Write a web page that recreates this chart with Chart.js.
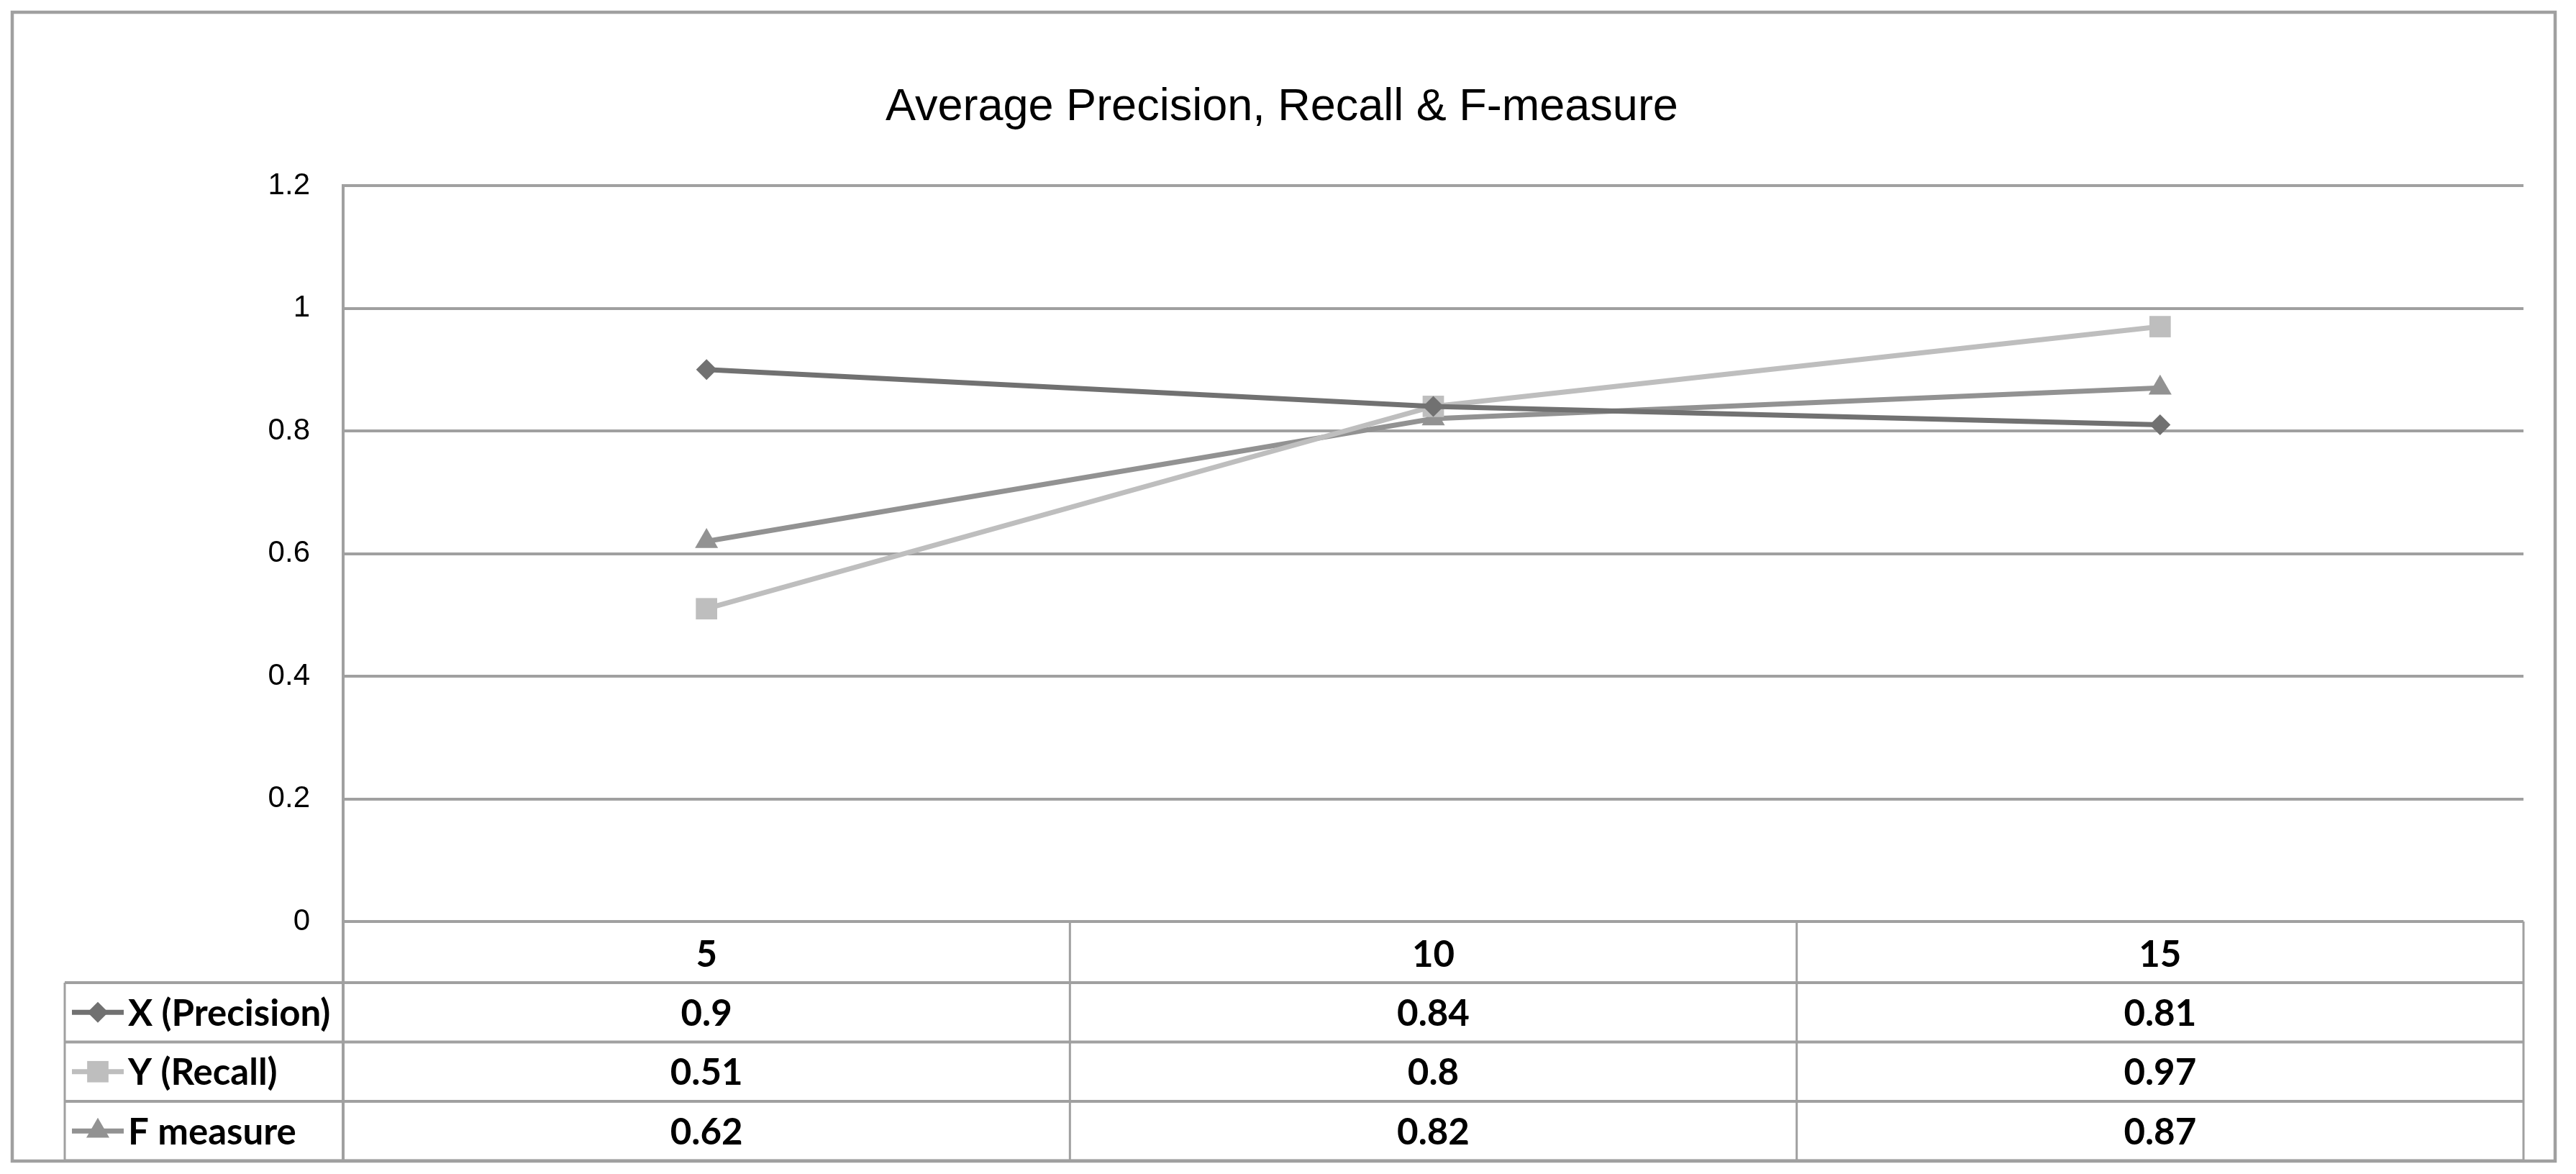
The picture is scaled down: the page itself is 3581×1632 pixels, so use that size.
<!DOCTYPE html>
<html>
<head>
<meta charset="utf-8">
<script src="https://cdn.jsdelivr.net/npm/chart.js@4.4.0/dist/chart.umd.min.js"></script>
<style>
  html, body { margin: 0; padding: 0; background: #fff; }
  #wrap { width: 3581px; height: 1632px; }
</style>
</head>
<body>
<div id="wrap"><canvas id="myChart" width="3581" height="1632"></canvas></div>
<script>
const chartTitle = 'Average Precision, Recall & F-measure';
const categories = ['5', '10', '15'];
const seriesNames = ['X (Precision)', 'Y (Recall)', 'F measure'];
const precision = [0.9, 0.84, 0.81];
const recall = [0.51, 0.84, 0.97];
const fMeasure = [0.62, 0.82, 0.87];
// numbers as printed in the data table under the plot
const precisionTable = ['0.9', '0.84', '0.81'];
const recallTable = ['0.51', '0.8', '0.97'];
const fMeasureTable = ['0.62', '0.82', '0.87'];
const yTickLabels = ['0', '0.2', '0.4', '0.6', '0.8', '1', '1.2'];

const gridGray = '#a0a0a0';
const colors = ['#717171', '#bebebe', '#929292'];
const pointStyles = ['rectRot', 'rect', 'triangle'];
const pointSizes = [14.5, 21, 18.5];

const dataTable = {
  id: 'dataTable',
  afterDraw: (chart) => {
    const { ctx, chartArea: { left, right, bottom } } = chart;
    const xs = chart.scales.x;
    const headerH = 85;
    const rowH = 82.5;
    const legendLeft = 90;
    const rows = [bottom, bottom + headerH, bottom + headerH + rowH, bottom + headerH + 2 * rowH, bottom + headerH + 3 * rowH];
    const tableBottom = rows[4];
    const step = (right - left) / categories.length;

    ctx.save();

    // title, centred a bit right of the canvas middle like the original
    ctx.fillStyle = '#000';
    ctx.font = '63px "Liberation Sans"';
    ctx.textAlign = 'center';
    ctx.textBaseline = 'alphabetic';
    ctx.fillText(chartTitle, 1782, 167);

    ctx.strokeStyle = gridGray;

    // horizontal rules
    ctx.lineWidth = 4;
    for (let i = 1; i < rows.length; i++) {
      ctx.beginPath();
      ctx.moveTo(legendLeft, rows[i]);
      ctx.lineTo(right, rows[i]);
      ctx.stroke();
    }
    // y axis line running down through the table
    ctx.beginPath();
    ctx.moveTo(left, bottom);
    ctx.lineTo(left, tableBottom);
    ctx.stroke();

    // column dividers
    ctx.lineWidth = 3;
    for (let i = 1; i <= categories.length; i++) {
      const x = left + i * step;
      ctx.beginPath();
      ctx.moveTo(x, bottom);
      ctx.lineTo(x, tableBottom);
      ctx.stroke();
    }
    ctx.beginPath();
    ctx.moveTo(legendLeft, rows[1]);
    ctx.lineTo(legendLeft, tableBottom);
    ctx.stroke();

    // outer frame
    ctx.lineWidth = 4.5;
    ctx.strokeRect(17, 17, 3535, 1597);

    // texts
    ctx.fillStyle = '#000';
    ctx.font = 'bold 51px Lato';
    ctx.textAlign = 'center';
    ctx.textBaseline = 'middle';
    categories.forEach((c, i) => {
      ctx.fillText(c, xs.getPixelForValue(i), (rows[0] + rows[1]) / 2 + 4);
    });
    const tables = [precisionTable, recallTable, fMeasureTable];
    tables.forEach((vals, r) => {
      const cy = (rows[r + 1] + rows[r + 2]) / 2 + 2;
      vals.forEach((v, i) => {
        ctx.fillText(v, xs.getPixelForValue(i), cy);
      });
    });

    // legend keys
    seriesNames.forEach((name, r) => {
      const cy = (rows[r + 1] + rows[r + 2]) / 2;
      ctx.strokeStyle = colors[r];
      ctx.lineWidth = 7;
      ctx.beginPath();
      ctx.moveTo(100, cy);
      ctx.lineTo(172, cy);
      ctx.stroke();
      ctx.fillStyle = colors[r];
      Chart.helpers.drawPoint(ctx, {
        pointStyle: pointStyles[r],
        radius: pointSizes[r],
        rotation: 0,
        borderWidth: 0
      }, 136, cy);
      ctx.fillStyle = '#000';
      ctx.textAlign = 'left';
      ctx.fillText(name, 178, cy + 2);
    });
    ctx.restore();
  }
};

const seriesData = [precision, recall, fMeasure];
const datasets = seriesNames.map((name, i) => ({
  label: name,
  data: seriesData[i],
  borderColor: colors[i],
  backgroundColor: colors[i],
  borderWidth: 7,
  pointStyle: pointStyles[i],
  pointRadius: pointSizes[i],
  pointBorderWidth: 0,
  pointBackgroundColor: colors[i],
  tension: 0,
  clip: false
}));

new Chart(document.getElementById('myChart').getContext('2d'), {
  type: 'line',
  data: {
    labels: categories,
    datasets: datasets
  },
  options: {
    responsive: false,
    animation: false,
    layout: {
      padding: { top: 258, left: 20, right: 73, bottom: 351 }
    },
    scales: {
      x: {
        display: false,
        offset: true
      },
      y: {
        min: 0,
        max: 1.2,
        afterFit: (scale) => {
          scale.width = 457;
        },
        grid: {
          color: gridGray,
          lineWidth: 4,
          drawTicks: false
        },
        border: {
          display: true,
          color: gridGray,
          width: 4
        },
        ticks: {
          stepSize: 0.2,
          padding: 46,
          color: '#000',
          font: { family: 'Liberation Sans', size: 42 },
          callback: (value, index) => yTickLabels[index]
        }
      }
    },
    plugins: {
      legend: { display: false },
      tooltip: { enabled: false },
      title: { display: false }
    }
  },
  plugins: [dataTable]
});
</script>
</body>
</html>
